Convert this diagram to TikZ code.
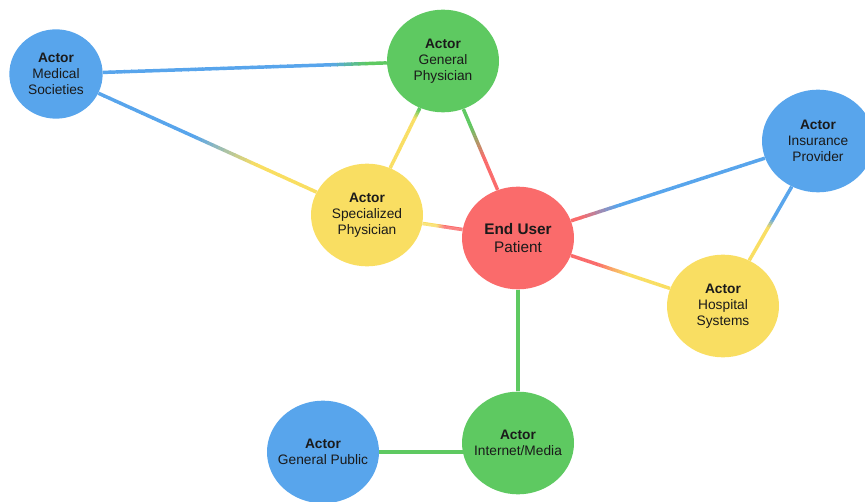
\documentclass[tikz,border=0pt]{standalone}
\usepackage{fontspec}
\setmainfont{Liberation Sans}
\usetikzlibrary{shapes.geometric,calc}
\definecolor{actblue}{RGB}{88,165,236}
\definecolor{actgreen}{RGB}{94,201,97}
\definecolor{actyellow}{RGB}{249,222,98}
\definecolor{actred}{RGB}{250,107,107}
\definecolor{inktext}{RGB}{26,26,26}
\pgfdeclarelayer{background}
\pgfsetlayers{background,main}

% link whose colour runs from #3 to #4 between the fractions #5 and #6
\newcommand{\linkfade}[6]{%
  \path (#1) -- (#2) coordinate[pos=0] (lf-a) coordinate[pos=1] (lf-b);
  \foreach \i in {0,...,39} {
    \pgfmathsetmacro{\ta}{\i/40}
    \pgfmathsetmacro{\tb}{min(1,(\i+1.1)/40)}
    \pgfmathtruncatemacro{\mix}{max(0,min(100,100*((\i+0.5)/40-#5)/(#6-#5)))}
    \draw[link, color=#4!\mix!#3] ($(lf-a)!\ta!(lf-b)$) -- ($(lf-a)!\tb!(lf-b)$);
  }
}

\begin{document}
\begin{tikzpicture}[x=0.75pt, y=-0.75pt,
    every node/.style={text=inktext, align=center, font=\fontsize{10.3}{12}\selectfont},
    actor/.style={ellipse, inner sep=-12pt, minimum width=84pt, minimum height=77pt},
    link/.style={line width=2.6pt}]
      \useasboundingbox (0,0) rectangle (865,502);
      % actors
      \node[actor, fill=actblue, minimum width=70pt, minimum height=67pt] (med) at (56,74) {\textbf{Actor}\\Medical\\Societies};
      \node[actor, fill=actgreen] (gen) at (443,61) {\textbf{Actor}\\General\\Physician};
      \node[actor, fill=actyellow] (spec) at (367,215) {\textbf{Actor}\\Specialized\\Physician};
      \node[actor, fill=actred, font=\fontsize{11.5}{13.5}\selectfont] (pat) at (518,238) {\textbf{End User}\\Patient};
      \node[actor, fill=actblue] (ins) at (818,141) {\textbf{Actor}\\Insurance\\Provider};
      \node[actor, fill=actyellow] (hosp) at (723,306) {\textbf{Actor}\\Hospital\\Systems};
      \node[actor, fill=actgreen] (net) at (518,443) {\textbf{Actor}\\Internet/Media};
      \node[actor, fill=actblue] (pub) at (323,452) {\textbf{Actor}\\General Public};
      % links
      \begin{pgfonlayer}{background}
      \linkfade{med}{gen}{actblue}{actgreen}{0.8}{0.93}
      \linkfade{med}{spec}{actblue}{actyellow}{0.44}{0.72}
      \linkfade{gen}{spec}{actgreen}{actyellow}{0.03}{0.18}
      \linkfade{gen}{pat}{actgreen}{actred}{0.2}{0.6}
      \linkfade{spec}{pat}{actyellow}{actred}{0.35}{0.55}
      \linkfade{pat}{ins}{actred}{actblue}{0.05}{0.24}
      \linkfade{pat}{hosp}{actred}{actyellow}{0.26}{0.57}
      \linkfade{ins}{hosp}{actblue}{actyellow}{0.44}{0.56}
      \draw[link, actgreen] (pat) -- (net);
      \draw[link, actgreen] (pub) -- (pub -| net);
      \end{pgfonlayer}
    \end{tikzpicture}
\end{document}
